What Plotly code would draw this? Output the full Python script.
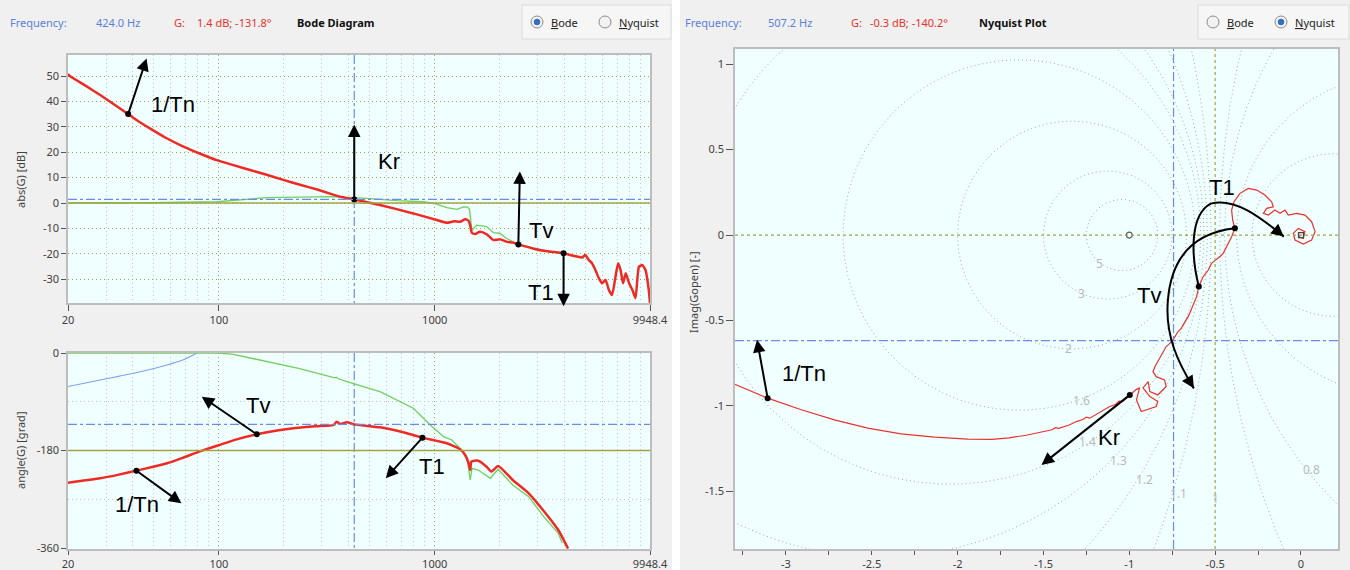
import math
import numpy as np
import plotly.graph_objects as go

W, H = 1350, 570

# ---------------- DATA ----------------
# Bode magnitude, open loop (red)
mag_freq = [20, 20.4, 24.0, 28.2, 33.0, 38.0, 42.5, 47.9, 57.0, 68.5, 82.0, 97.6, 118, 139.5, 168, 199, 240,
            283, 330, 364, 424, 558, 796, 1022, 1137,
            1230, 1311, 1384, 1435, 1462, 1487, 1540, 1623, 1740, 1872, 2003, 2148, 2300, 2442, 2940,
            3264, 3600, 3956, 4400, 4812, 4989, 5175, 5357, 5556, 5765, 5964, 6190, 6420, 6638, 6885,
            7080, 7270, 7460, 7680, 7960, 8250, 8520, 8840, 9153, 9480, 9820, 9948.4]
mag_db = [50.8, 50.0, 46.3, 42.5, 38.6, 35.0, 32.1, 29.4, 25.6, 22.2, 19.4, 16.9, 14.8, 13.0, 11.0, 9.1, 7.1,
          5.4, 3.6, 2.5, 1.4, -0.8, -4.1, -6.7, -7.8,
          -7.2, -7.4, -6.4, -7.0, -9.0, -11.7, -12.2, -11.3, -12.3, -14.6, -14.3, -15.2, -15.6, -16.3, -18.2,
          -18.9, -19.3, -19.8, -20.8, -21.4, -20.5, -22.4, -23.7, -26.4, -29.6, -31.6, -30.3, -34.3, -36.2, -29.0,
          -23.7, -26.4, -31.6, -27.7, -31.6, -34.3, -37.5, -25.1, -24.4, -26.4, -34.3, -39.5]

# Bode magnitude, second curve (green)
grn_mag_freq = [20, 48, 97.6, 167, 338, 467, 670, 890, 1022, 1137, 1270, 1363, 1420, 1450, 1487, 1566,
                1740, 1872, 2003, 2148, 2442, 2940, 3500, 3956, 4500, 4900]
grn_mag_db = [0.0, 0.1, 0.5, 2.1, 2.5, 1.9, 0.9, 0.5, -0.4, -1.8, -2.5, -1.5, -1.6, -2.5, -10.6, -8.7,
              -9.3, -11.7, -11.9, -13.9, -16.3, -18.0, -19.3, -19.9, -21.1, -21.8]

# Bode phase, open loop (red)
ph_freq = [20, 28.2, 34.0, 41.5, 49.0, 57.5, 68.0, 81.0, 100.6, 122, 149.8, 183, 221.6, 280, 341, 351, 365,
           392, 424, 558, 700, 878, 1137,
           1311, 1384, 1440, 1462, 1480, 1592, 1740, 1832, 1968, 2300, 2727, 3250, 3740, 4150]
ph_deg = [-239.4, -231.3, -225.0, -217.2, -210.5, -203.6, -193.5, -182.2, -169.8, -159.0, -150.1, -143.5,
          -139.0, -135.2, -132.9, -126.8, -131.0, -128.0,
          -131.8, -137.2, -145.5, -156.3, -166.7, -177.8, -188.3, -205.0, -216.0, -200.6, -198.8, -209.9, -219.0,
          -208.6, -234.5, -259.0, -294.8, -326.8, -361.0]

# Bode phase, second curve (green)
grn_ph_freq = [20, 100, 117, 166, 237, 341, 351, 360, 392, 558, 796, 954, 1100, 1200, 1311, 1412, 1462,
               1490, 1592, 1810, 1968, 2300, 2727, 3200, 3740, 3900]
grn_ph_deg = [0, 0, -2.5, -16.0, -29.0, -45.5, -44.9, -48.0, -53.0, -71.4, -102.0, -133.0, -154.5, -160.6,
              -176.0, -194.4, -234.5, -212.9, -216.0, -231.3, -214.7, -243.7, -265.2, -302.0, -332.8, -351.0]

# Bode phase, third curve (blue)
blu_ph_freq = [20, 28.2, 40.2, 57.5, 68, 79.4]
blu_ph_deg = [-62.0, -50.0, -37.5, -22.0, -13.0, 0.0]

# Nyquist curve (real, imaginary)
nyq_re = [-3.30, -3.106, -2.91, -2.717, -2.523, -2.329, -2.134, -1.94, -1.80, -1.70, -1.60, -1.503, -1.45,
          -1.43, -1.41, -1.35, -1.308, -1.27, -1.25, -1.23, -1.18, -1.114, -1.08, -1.06, -1.04, -0.997,
          -0.96, -0.94, -0.958, -0.93, -0.843, -0.834, -0.88, -0.92, -0.89, -0.88, -0.834, -0.785, -0.795,
          -0.843, -0.862, -0.85, -0.822, -0.81, -0.785, -0.77, -0.745, -0.716, -0.70, -0.686, -0.67, -0.657,
          -0.645, -0.637, -0.625, -0.618, -0.608, -0.595, -0.585, -0.57, -0.555, -0.54, -0.521, -0.50,
          -0.482, -0.465, -0.453, -0.424, -0.404, -0.385, -0.398, -0.404, -0.39, -0.355, -0.307, -0.258,
          -0.21, -0.171, -0.161, -0.20, -0.219, -0.19, -0.152, -0.122, -0.093, -0.074, -0.025, 0.023,
          0.062, 0.082, 0.062, 0.013, -0.035, -0.045, -0.016, 0.023, 0.013, -0.016, 0.0]
nyq_im = [-0.873, -0.955, -1.023, -1.082, -1.13, -1.164, -1.183, -1.195, -1.196, -1.187, -1.172, -1.150, -1.140,
          -1.128, -1.132, -1.112, -1.092, -1.080, -1.066, -1.072, -1.043, -1.004, -0.992, -0.972, -0.975, -0.936,
          -0.905, -0.895, -0.965, -1.033, -1.004, -0.975, -0.946, -0.895, -0.858, -0.916, -0.936, -0.887, -0.848,
          -0.829, -0.80, -0.77, -0.721, -0.70, -0.653, -0.64, -0.614, -0.565, -0.55, -0.526, -0.50, -0.478,
          -0.45, -0.429, -0.40, -0.38, -0.361, -0.302, -0.28, -0.244, -0.225, -0.205, -0.166, -0.15,
          -0.136, -0.12, -0.107, -0.049, -0.01, 0.039, 0.088, 0.146, 0.195, 0.244, 0.273, 0.263,
          0.234, 0.195, 0.165, 0.156, 0.127, 0.117, 0.146, 0.127, 0.146, 0.117, 0.127, 0.117,
          0.078, 0.02, -0.029, -0.053, -0.029, 0.01, 0.039, 0.02, -0.02, -0.01, 0.0]

# Closed-loop magnitude contours (M circles) and their labels
m_values = [5, 3, 2, 1.6, 1.4, 1.3, 1.2, 1.1, 0.9, 0.8, 0.6, 0.4]
m_labels = ["5", "3", "2", "1.6", "1.4", "1.3", "1.2", "1.1", "1", "0.8"]
m_label_re = [-1.171, -1.277, -1.355, -1.277, -1.245, -1.064, -0.914, -0.716, -0.497, 0.062]
m_label_im = [-0.166, -0.341, -0.667, -0.966, -1.21, -1.317, -1.434, -1.516, -1.542, -1.37]

# Cursor readouts
bode_cursor = dict(freq=424.0, db=1.4, deg=-131.8)
nyq_cursor = dict(freq=507.2, db=-0.3, deg=-140.2)

# Parameter markers
mag_mark_names = ["1/Tn", "Kr", "Tv", "T1"]
mag_mark_freq = [38.0, 424, 2442, 3956]
mag_mark_db = [35.0, 1.4, -16.3, -19.8]
ph_mark_names = ["1/Tn", "Tv", "T1"]
ph_mark_freq = [41.5, 149.8, 878]
ph_mark_deg = [-217.2, -150.1, -156.3]
nyq_mark_names = ["1/Tn", "Kr", "Tv", "T1"]
nyq_mark_re = [-3.106, -0.997, -0.595, -0.385]
nyq_mark_im = [-0.955, -0.936, -0.302, 0.039]

bode_xticks = [20, 100, 1000, 9948.4]
bode_xticktext = ["20", "100", "1000", "9948.4"]
bode_minor = [30, 40, 50, 60, 70, 80, 90, 200, 300, 400, 500, 600, 700, 800, 900,
              2000, 3000, 4000, 5000, 6000, 7000, 8000, 9000]
mag_yticks = [50, 40, 30, 20, 10, 0, -10, -20, -30]
ph_yticks = [0, -180, -360]
nyq_xticks = [-3, -2.5, -2, -1.5, -1, -0.5, 0]
nyq_yticks = [1, 0.5, 0, -0.5, -1, -1.5]

# ---------------- GEOMETRY ----------------
BX = (68, 650)
F_RANGE = (20, 9948.4)
MAG_PY = (55, 303); MAG_R = (58.27, -39.37)
PH_PY = (353, 549); PH_R = (0.0, -361.85)
NQ_PX = (735, 1338); NQ_XR = (-3.296, 0.2155)
NQ_PY = (49, 549); NQ_YR = (1.089, -1.838)


def xdom(p):
    return [p[0] / W, p[1] / W]


def ydom(p):
    return [1 - p[1] / H, 1 - p[0] / H]


def bx(f):
    l0, l1 = math.log10(F_RANGE[0]), math.log10(F_RANGE[1])
    return BX[0] + (math.log10(f) - l0) / (l1 - l0) * (BX[1] - BX[0])


def vy(v, r, p):
    return p[0] + (r[0] - v) / (r[0] - r[1]) * (p[1] - p[0])


def nx(v):
    return NQ_PX[0] + (v - NQ_XR[0]) / (NQ_XR[1] - NQ_XR[0]) * (NQ_PX[1] - NQ_PX[0])


def fmt(v):
    return ("%g" % v)


RED = "#ee2a24"
GREEN = "#6fcf5f"
BLUE = "#7ea2e8"
CROSS = "#6a8be8"
OLIVE = "#a3a345"
GRID = "#c4c4c4"
FINEDOT = "1px,3px"
TICKFONT = dict(family="Noto Sans, DejaVu Sans", size=11, color="#404040")

fig = go.Figure()

# ---- Nyquist M circles ----
theta = np.linspace(0, 2 * np.pi, 900)
for m in m_values:
    c = -m * m / (m * m - 1)
    r = abs(m / (m * m - 1))
    fig.add_trace(go.Scatter(x=c + r * np.cos(theta), y=r * np.sin(theta), mode="lines",
                             line=dict(color="#a6a6a6", width=1, dash=FINEDOT),
                             xaxis="x3", yaxis="y3", hoverinfo="skip"))

# ---- Bode crosshair vertical ----
fig.add_trace(go.Scatter(x=[bode_cursor["freq"]] * 2, y=list(MAG_R), mode="lines",
                         line=dict(color=CROSS, width=1.2, dash="dashdot"), xaxis="x", yaxis="y"))
fig.add_trace(go.Scatter(x=[bode_cursor["freq"]] * 2, y=list(PH_R), mode="lines",
                         line=dict(color=CROSS, width=1.2, dash="dashdot"), xaxis="x2", yaxis="y2"))

# ---- Bode curves ----
fig.add_trace(go.Scatter(x=grn_mag_freq, y=grn_mag_db, mode="lines",
                         line=dict(color=GREEN, width=1.3), xaxis="x", yaxis="y"))
fig.add_trace(go.Scatter(x=mag_freq, y=mag_db, mode="lines",
                         line=dict(color=RED, width=2.5, shape="spline", smoothing=0.5), xaxis="x", yaxis="y"))
fig.add_trace(go.Scatter(x=blu_ph_freq, y=blu_ph_deg, mode="lines",
                         line=dict(color=BLUE, width=1.1, shape="spline", smoothing=0.6), xaxis="x2", yaxis="y2"))
fig.add_trace(go.Scatter(x=grn_ph_freq, y=grn_ph_deg, mode="lines",
                         line=dict(color=GREEN, width=1.3), xaxis="x2", yaxis="y2"))
fig.add_trace(go.Scatter(x=ph_freq, y=ph_deg, mode="lines",
                         line=dict(color=RED, width=2.5, shape="spline", smoothing=0.5), xaxis="x2", yaxis="y2"))

# ---- Nyquist curve ----
fig.add_trace(go.Scatter(x=nyq_re, y=nyq_im, mode="lines",
                         line=dict(color="#e8322e", width=1.2), xaxis="x3", yaxis="y3"))
fig.add_trace(go.Scatter(x=[-1], y=[0], mode="markers",
                         marker=dict(symbol="circle-open", size=6, color="#555", line=dict(width=1.2)),
                         xaxis="x3", yaxis="y3"))
fig.add_trace(go.Scatter(x=[0], y=[0], mode="markers",
                         marker=dict(symbol="square-open", size=5, color="#444", line=dict(width=1.2)),
                         xaxis="x3", yaxis="y3"))

# ---- parameter dots ----
fig.add_trace(go.Scatter(x=mag_mark_freq, y=mag_mark_db, mode="markers",
                         marker=dict(color="black", size=6), xaxis="x", yaxis="y"))
fig.add_trace(go.Scatter(x=ph_mark_freq, y=ph_mark_deg, mode="markers",
                         marker=dict(color="black", size=6), xaxis="x2", yaxis="y2"))
fig.add_trace(go.Scatter(x=nyq_mark_re, y=nyq_mark_im, mode="markers",
                         marker=dict(color="black", size=6), xaxis="x3", yaxis="y3"))

# ---------------- SHAPES ----------------
shapes = []
shapes.append(dict(type="line", xref="x domain", yref="y", x0=0, x1=1, y0=0, y1=0,
                   line=dict(color=OLIVE, width=1.5)))
shapes.append(dict(type="line", xref="x domain", yref="y", x0=0, x1=1,
                   y0=bode_cursor["db"], y1=bode_cursor["db"],
                   line=dict(color=CROSS, width=1.2, dash="dashdot")))
shapes.append(dict(type="line", xref="x2 domain", yref="y2", x0=0, x1=1, y0=-180, y1=-180,
                   line=dict(color=OLIVE, width=1.5)))
shapes.append(dict(type="line", xref="x2 domain", yref="y2", x0=0, x1=1,
                   y0=bode_cursor["deg"], y1=bode_cursor["deg"],
                   line=dict(color=CROSS, width=1.2, dash="dashdot")))
shapes.append(dict(type="line", xref="x3 domain", yref="y3", x0=0, x1=1, y0=0, y1=0,
                   line=dict(color=OLIVE, width=1.2, dash="dot")))
shapes.append(dict(type="line", xref="x3", yref="y3 domain", x0=-0.5, x1=-0.5, y0=0, y1=1,
                   line=dict(color=OLIVE, width=1.2, dash="dot")))
mag = 10 ** (nyq_cursor["db"] / 20)
cre = mag * math.cos(math.radians(nyq_cursor["deg"]))
cim = mag * math.sin(math.radians(nyq_cursor["deg"]))
shapes.append(dict(type="line", xref="x3", yref="y3 domain", x0=cre, x1=cre, y0=0, y1=1,
                   line=dict(color=CROSS, width=1.2, dash="dashdot")))
shapes.append(dict(type="line", xref="x3 domain", yref="y3", x0=0, x1=1, y0=cim, y1=cim,
                   line=dict(color=CROSS, width=1.2, dash="dashdot")))

shapes.append(dict(type="rect", xref="paper", yref="paper", x0=672 / W, x1=680 / W, y0=0, y1=1,
                   fillcolor="white", line=dict(width=0), layer="below"))
for (x0, x1) in [(522, 671), (1198, 1349)]:
    shapes.append(dict(type="rect", xref="paper", yref="paper", x0=x0 / W, x1=x1 / W,
                       y0=1 - 39 / H, y1=1 - 5 / H, fillcolor="#f6f6f6",
                       line=dict(color="#dcdcdc", width=1), layer="below"))


def radio(cx, cy, selected):
    out = [dict(type="circle", xref="paper", yref="paper", x0=(cx - 6) / W, x1=(cx + 6) / W,
                y0=1 - (cy + 6) / H, y1=1 - (cy - 6) / H, fillcolor="#f2f2f2",
                line=dict(color="#8c8c8c", width=1))]
    if selected:
        out.append(dict(type="circle", xref="paper", yref="paper", x0=(cx - 3) / W, x1=(cx + 3) / W,
                        y0=1 - (cy + 3) / H, y1=1 - (cy - 3) / H, fillcolor="#2f6fc4",
                        line=dict(color="#2a5fa8", width=0.5)))
    return out


shapes += radio(537, 22, True) + radio(605, 22, False) + radio(1213, 22, False) + radio(1281, 22, True)


def P(x, y):
    return x / W, 1 - y / H


def bezier_path(start, segs):
    s = "M %.5f %.5f" % P(*start)
    for seg in segs:
        pts = [P(start[0] + dx, start[1] + dy) for dx, dy in seg]
        s += " C " + ", ".join("%.5f %.5f" % p for p in pts)
    return s


tv_dot = (nx(nyq_mark_re[2]), vy(nyq_mark_im[2], NQ_YR, NQ_PY))
t1_dot = (nx(nyq_mark_re[3]), vy(nyq_mark_im[3], NQ_YR, NQ_PY))
curveA = [[(-8, -32), (-9, -72), (12, -83)], [(36, -89), (61, -70), (85, -50)]]
curveB = [[(-35, 4), (-63, 22), (-67, 72)], [(-70, 107), (-57, 134), (-41, 160)]]
shapes.append(dict(type="path", xref="paper", yref="paper", path=bezier_path(tv_dot, curveA),
                   line=dict(color="black", width=2)))
shapes.append(dict(type="path", xref="paper", yref="paper", path=bezier_path(t1_dot, curveB),
                   line=dict(color="black", width=2)))

# ---------------- ANNOTATIONS ----------------
ann = []

for t, xr, yi in zip(m_labels, m_label_re, m_label_im):
    ann.append(dict(x=xr, y=yi, xref="x3", yref="y3", text=t, showarrow=False,
                    font=dict(family="Noto Sans, DejaVu Sans", size=12, color="#b9b9b9")))


def arrow(tail, d, size=1.25):
    tip = (tail[0] + d[0], tail[1] + d[1])
    return dict(xref="paper", yref="paper", x=tip[0] / W, y=1 - tip[1] / H,
                ax=-d[0], ay=-d[1], axref="pixel", ayref="pixel", text="", showarrow=True,
                arrowhead=2, arrowsize=size, arrowwidth=2, arrowcolor="black",
                standoff=0, startstandoff=0)


def label(txt, x, y, size=22):
    return dict(xref="paper", yref="paper", x=x / W, y=1 - y / H, text=txt, showarrow=False,
                font=dict(family="Liberation Sans, Arial", size=size, color="black"),
                xanchor="center", yanchor="middle")


mag_arrow_d = [(18.4, -55.7), (0, -75), (1.5, -73), (0, 53)]
mag_text_pos = [(173, 104), (389, 161), (541, 231), (541, 292)]
for i in range(4):
    tail = (bx(mag_mark_freq[i]), vy(mag_mark_db[i], MAG_R, MAG_PY))
    ann.append(arrow(tail, mag_arrow_d[i]))
    ann.append(label(mag_mark_names[i], *mag_text_pos[i]))

ph_arrow_d = [(45, 32.6), (-55, -37.6), (-36.7, 40.6)]
ph_text_pos = [(137, 504), (258, 405), (432, 466)]
for i in range(3):
    tail = (bx(ph_mark_freq[i]), vy(ph_mark_deg[i], PH_R, PH_PY))
    ann.append(arrow(tail, ph_arrow_d[i]))
    ann.append(label(ph_mark_names[i], *ph_text_pos[i]))

for i, d in [(0, (-10.6, -58.3)), (1, (-88.3, 70))]:
    tail = (nx(nyq_mark_re[i]), vy(nyq_mark_im[i], NQ_YR, NQ_PY))
    ann.append(arrow(tail, d))
ann.append(label("1/Tn", 804, 373))
ann.append(label("Kr", 1109, 438))
ann.append(label("T1", 1222, 187))
ann.append(label("Tv", 1149, 295))


def head(start, seg):
    c = seg[1]
    e = seg[2]
    tip = (start[0] + e[0], start[1] + e[1])
    dx, dy = e[0] - c[0], e[1] - c[1]
    n = math.hypot(dx, dy)
    back = (-dx / n * 12, -dy / n * 12)
    return arrow((tip[0] + back[0], tip[1] + back[1]), (-back[0], -back[1]))


ann.append(head(tv_dot, curveA[-1]))
ann.append(head(t1_dot, curveB[-1]))

for txt, x, y in [("abs(G) [dB]", 20, 180), ("angle(G) [grad]", 20, 450), ("Imag(Gopen) [-]", 693, 292)]:
    ann.append(dict(xref="paper", yref="paper", x=x / W, y=1 - y / H, text=txt, showarrow=False,
                    textangle=-90, font=dict(family="Noto Sans, DejaVu Sans", size=11, color="#404040"),
                    xanchor="center", yanchor="middle"))

HB = "#5b7fd8"
HR = "#e8302c"
hdr = [("Frequency:", 8, HB), ("%.1f Hz" % bode_cursor["freq"], 94, HB), ("G:", 172, HR),
       ("%.1f dB; %.1f°" % (bode_cursor["db"], bode_cursor["deg"]), 195, HR),
       ("<b>Bode Diagram</b>", 295, "#111"),
       ("<u>B</u>ode", 549, "#222"), ("<u>N</u>yquist", 617, "#222"),
       ("Frequency:", 683, HB), ("%.1f Hz" % nyq_cursor["freq"], 766, HB), ("G:", 849, HR),
       ("%.1f dB; %.1f°" % (nyq_cursor["db"], nyq_cursor["deg"]), 868, HR),
       ("<b>Nyquist Plot</b>", 977, "#111"),
       ("<u>B</u>ode", 1225, "#222"), ("<u>N</u>yquist", 1293, "#222")]
for txt, x, col in hdr:
    ann.append(dict(xref="paper", yref="paper", x=x / W, y=1 - 22 / H, text=txt, showarrow=False,
                    xanchor="left", yanchor="middle",
                    font=dict(family="Noto Sans, DejaVu Sans", size=11, color=col)))

# ---------------- LAYOUT ----------------
bode_x = dict(type="log", range=[math.log10(F_RANGE[0]), math.log10(F_RANGE[1])], domain=xdom(BX),
              tickmode="array", tickvals=bode_xticks, ticktext=bode_xticktext, ticks="outside",
              ticklen=6, tickcolor="#555", tickfont=TICKFONT, showgrid=True, gridcolor=OLIVE,
              griddash=FINEDOT, gridwidth=1, automargin=False,
              minor=dict(tickmode="array", tickvals=bode_minor, showgrid=True, gridcolor=GRID,
                         griddash=FINEDOT, gridwidth=1, ticks=""),
              showline=True, linecolor="#bdbdbd", linewidth=1.5, mirror=True, zeroline=False)

layout = dict(
    width=W, height=H, autosize=False, margin=dict(l=0, r=0, t=0, b=0, pad=0),
    paper_bgcolor="#f0f0f0", plot_bgcolor="#f0ffff", showlegend=False,
    xaxis=dict(bode_x, anchor="y"),
    yaxis=dict(domain=ydom(MAG_PY), range=[MAG_R[1], MAG_R[0]], tickmode="array", tickvals=mag_yticks,
               ticktext=[fmt(v) for v in mag_yticks], ticks="outside", ticklen=5, tickcolor="#555",
               tickfont=TICKFONT, showgrid=True, gridcolor=OLIVE, griddash=FINEDOT, zeroline=False,
               automargin=False,
               showline=True, linecolor="#bdbdbd", linewidth=1.5, mirror=True, anchor="x"),
    xaxis2=dict(bode_x, anchor="y2", ticklen=4),
    yaxis2=dict(domain=ydom(PH_PY), range=[PH_R[1], PH_R[0]], tickmode="array", tickvals=ph_yticks,
                ticktext=[fmt(v) for v in ph_yticks], ticks="outside", ticklen=5, tickcolor="#555",
                tickfont=TICKFONT, showgrid=False, zeroline=False, automargin=False,
                minor=dict(tickmode="array", tickvals=[-90, -270], showgrid=True, gridcolor=GRID,
                           griddash=FINEDOT, ticks=""),
                showline=True, linecolor="#bdbdbd", linewidth=1.5, mirror=True, anchor="x2"),
    xaxis3=dict(domain=xdom(NQ_PX), range=list(NQ_XR), tickmode="array", tickvals=nyq_xticks,
                ticktext=[fmt(v) for v in nyq_xticks], ticks="outside", ticklen=4, tickcolor="#555",
                tickfont=TICKFONT, showgrid=False, zeroline=False, automargin=False,
                minor=dict(tickmode="array", tickvals=[-3.25, -2.75, -2.25, -1.75, -1.25, -0.75, -0.25],
                           ticks="outside", ticklen=4, tickcolor="#555", showgrid=False),
                showline=True, linecolor="#bdbdbd", linewidth=1.5, mirror=True, anchor="y3"),
    yaxis3=dict(domain=ydom(NQ_PY), range=[NQ_YR[1], NQ_YR[0]], tickmode="array", tickvals=nyq_yticks,
                ticktext=[fmt(v) for v in nyq_yticks], ticks="outside", ticklen=7, tickcolor="#555",
                tickfont=TICKFONT, showgrid=False, zeroline=False, automargin=False,
                showline=True, linecolor="#bdbdbd", linewidth=1.5, mirror=True, anchor="x3"),
    shapes=shapes, annotations=ann,
)
fig.update_layout(**layout)
fig.write_html("out.html", config={"displayModeBar": False},
               post_script="document.body.style.margin='0px';document.body.style.overflow='hidden';")
